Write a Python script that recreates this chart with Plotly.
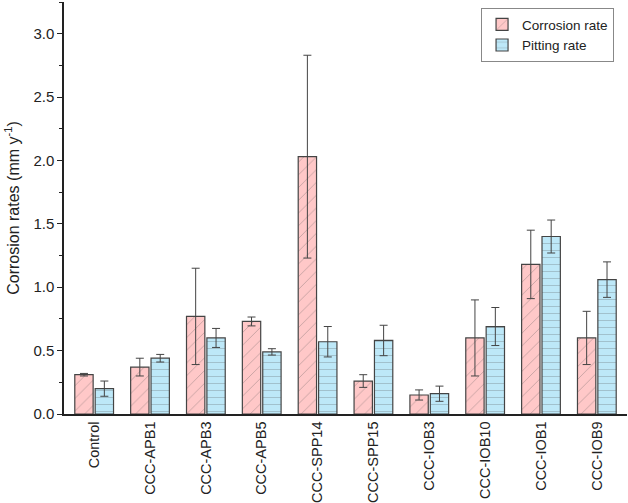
import plotly.graph_objects as go

categories = ["Control", "CCC-APB1", "CCC-APB3", "CCC-APB5", "CCC-SPP14",
              "CCC-SPP15", "CCC-IOB3", "CCC-IOB10", "CCC-IOB1", "CCC-IOB9"]
corrosion_rate = [0.31, 0.37, 0.77, 0.73, 2.03, 0.26, 0.15, 0.60, 1.18, 0.60]
corrosion_err = [0.01, 0.07, 0.38, 0.035, 0.80, 0.05, 0.04, 0.30, 0.27, 0.21]
pitting_rate = [0.20, 0.44, 0.60, 0.49, 0.57, 0.58, 0.16, 0.69, 1.40, 1.06]
pitting_err = [0.06, 0.03, 0.075, 0.025, 0.12, 0.12, 0.06, 0.15, 0.13, 0.14]

font = "Liberation Sans, Arial, sans-serif"

fig = go.Figure()
fig.add_trace(go.Bar(
    name="Corrosion rate", x=categories, y=corrosion_rate,
    error_y=dict(type="data", array=corrosion_err, color="#444444", thickness=1, width=4),
    marker=dict(color="#FFC8C8", line=dict(color="#444444", width=1.2),
                pattern=dict(shape="/", fgcolor="#8a7a7a", bgcolor="#FFC8C8", size=9, solidity=0.1)),
))
fig.add_trace(go.Bar(
    name="Pitting rate", x=categories, y=pitting_rate,
    error_y=dict(type="data", array=pitting_err, color="#444444", thickness=1, width=4),
    marker=dict(color="#BDE8F8", line=dict(color="#444444", width=1.2),
                pattern=dict(shape="-", fgcolor="#7a8a90", bgcolor="#BDE8F8", size=7, solidity=0.12)),
))

fig.update_layout(
    width=628, height=503,
    margin=dict(l=64, r=1, t=2, b=89, autoexpand=False),
    barmode="group", bargap=0.27, bargroupgap=0.1,
    plot_bgcolor="white", paper_bgcolor="white",
    font=dict(family=font, size=14, color="#222222"),
    showlegend=True,
    legend=dict(x=0.977, y=0.985, xanchor="right", yanchor="top",
                bordercolor="#888888", borderwidth=1, bgcolor="white",
                font=dict(size=13.5), tracegroupgap=0, itemwidth=30),
    xaxis=dict(range=[-0.54, 9.54], tickangle=-90, showline=True, linecolor="#222222",
               linewidth=1.5, ticks="", showgrid=False, tickfont=dict(size=14.5)),
    yaxis=dict(range=[0, 3.25], dtick=0.5, tickformat=".1f", showline=True,
               linecolor="#222222", linewidth=1.5, ticks="outside", ticklen=5,
               tickcolor="#222222", showgrid=False, zeroline=False,
               minor=dict(dtick=0.25, ticks="outside", ticklen=3, tickcolor="#222222"),
               title=dict(text="Corrosion rates (mm y<sup>-1</sup>)", font=dict(size=16), standoff=10),
               tickfont=dict(size=15)),
)

fig.write_html("out.html", config={"displayModeBar": False},
               post_script="document.body.style.margin='0';document.body.style.overflow='hidden';")
